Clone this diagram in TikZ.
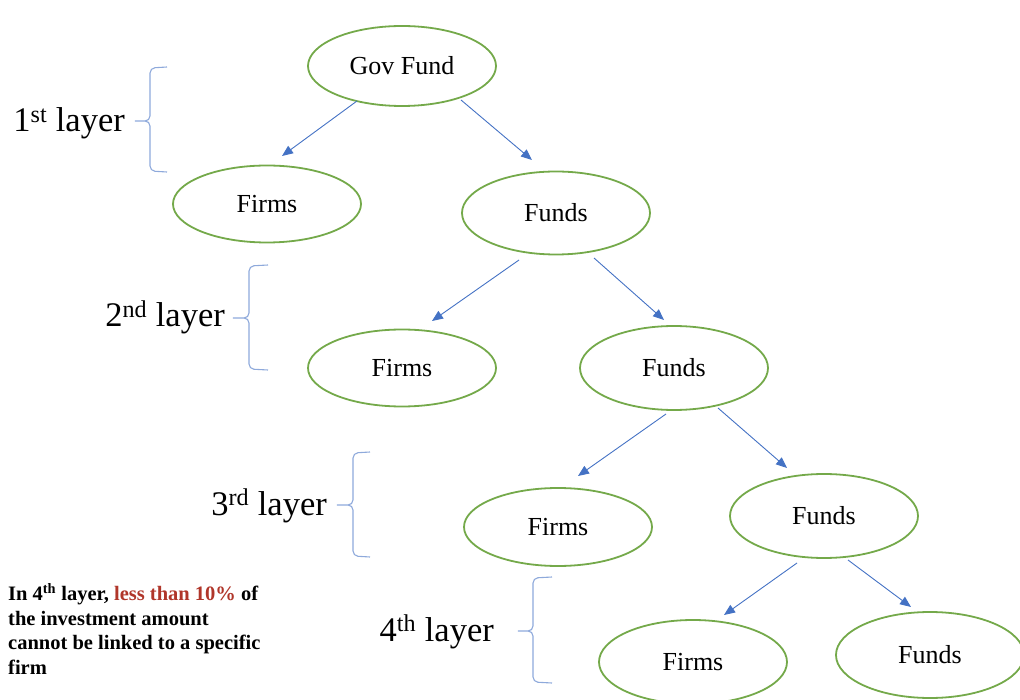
\documentclass[tikz,border=0pt]{standalone}
\usepackage{fontspec}
\setmainfont{Liberation Serif}
\usetikzlibrary{shapes.geometric,arrows.meta}
\definecolor{egreen}{HTML}{74A94A}
\definecolor{ablue}{HTML}{4472C4}
\definecolor{bblue}{HTML}{8EA9DB}
\definecolor{dred}{HTML}{B0362A}
\tikzset{
  ell/.style={ellipse,draw=egreen,line width=1.8pt,minimum width=188pt,minimum height=80pt,inner sep=0pt,font=\fontsize{26}{30}\selectfont},
  arr/.style={draw=ablue,line width=0.9pt,-{Triangle[length=11pt,width=9pt]}},
  bracestyle/.style={draw=bblue,line width=1.1pt,rounded corners=5pt},
  lay/.style={anchor=base east,inner sep=0pt,font=\fontsize{34.5}{38}\selectfont},
}
\begin{document}
\begin{tikzpicture}[x=1pt,y=-1pt]
\useasboundingbox (0,0) rectangle (1020,700);
\clip (0,0) rectangle (1020,700);
% nodes
\node[ell] (gov) at (402,66) {Gov Fund};
\node[ell,minimum height=77pt] (firms1) at (267,204) {Firms};
\node[ell,minimum height=83pt] (funds1) at (556,213) {Funds};
\node[ell,minimum height=77pt] (firms2) at (402,368) {Firms};
\node[ell,minimum height=84pt] (funds2) at (674,368) {Funds};
\node[ell,minimum height=78pt] (firms3) at (558,527) {Firms};
\node[ell,minimum height=84pt] (funds3) at (824,516) {Funds};
\node[ell,minimum height=84pt] (firms4) at (693,662) {Firms};
\node[ell,minimum height=86pt] (funds4) at (930,655) {Funds};
% arrows
\draw[arr] ([shift={(-45,35)}]gov.center) -- ([shift={(15,-48)}]firms1.center);
\draw[arr] ([shift={(59,34)}]gov.center) -- ([shift={(-24,-53)}]funds1.center);
\draw[arr] ([shift={(-37,47)}]funds1.center) -- ([shift={(30,-47)}]firms2.center);
\draw[arr] ([shift={(38,45)}]funds1.center) -- ([shift={(-10,-48)}]funds2.center);
\draw[arr] ([shift={(-8,46)}]funds2.center) -- ([shift={(20,-51)}]firms3.center);
\draw[arr] ([shift={(44,40)}]funds2.center) -- ([shift={(-37,-48)}]funds3.center);
\draw[arr] ([shift={(-27,47)}]funds3.center) -- ([shift={(31,-47)}]firms4.center);
\draw[arr] ([shift={(24,44)}]funds3.center) -- ([shift={(-19,-48)}]funds4.center);
% braces
\draw[bracestyle] (167,67) -- (150,68) -- (150,121) -- (132,121) -- (150,121) -- (150,171) -- (167,172);
\draw[bracestyle] (268,265) -- (249,266) -- (249,318) -- (230,318) -- (249,318) -- (249,369) -- (268,370);
\draw[bracestyle] (370,452) -- (353,453) -- (353,505) -- (334,505) -- (353,505) -- (353,556) -- (370,557);
\draw[bracestyle] (552,577) -- (533,578) -- (533,631) -- (515,631) -- (533,631) -- (533,682) -- (552,683);
% labels
\node[lay] (l1) at (125,132) {1\textsuperscript{st} layer};
\node[lay] (l2) at (225,327) {2\textsuperscript{nd} layer};
\node[lay] (l3) at (327,515) {3\textsuperscript{rd} layer};
\node[lay] (l4) at (494,641) {4\textsuperscript{th} layer};
\node[anchor=north west,inner sep=0pt,align=left,font=\bfseries\fontsize{20.5}{24.5}\selectfont] (note) at (8,583)
  {In 4\textsuperscript{th} layer, \textcolor{dred}{less than 10\%} of\\the investment amount\\cannot be linked to a specific\\firm};
\end{tikzpicture}
\end{document}
